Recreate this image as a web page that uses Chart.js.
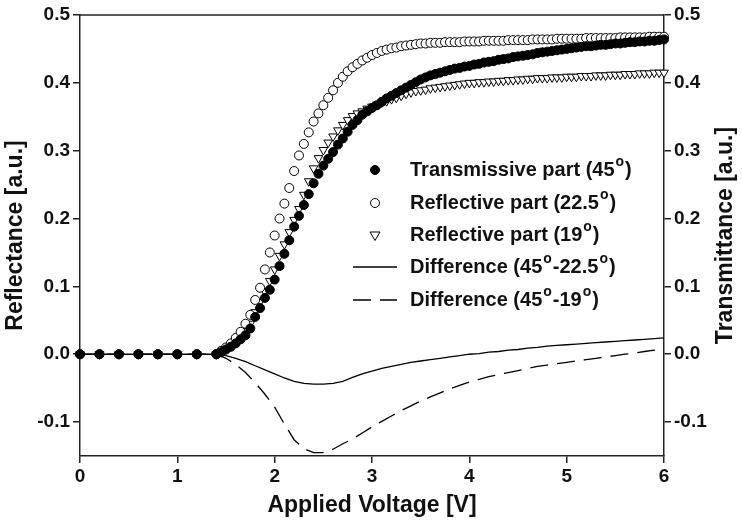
<!DOCTYPE html>
<html>
<head>
<meta charset="utf-8">
<script src="https://cdn.jsdelivr.net/npm/chart.js@4.4.0/dist/chart.umd.min.js"></script>
<style>
  html, body { margin: 0; padding: 0; background: #fff; }
  #wrap { width: 742px; height: 521px; position: relative; }
</style>
</head>
<body>
<div id="wrap"><canvas id="chart"></canvas></div>
<script>
// voltage steps: 0.2 V up to 1.4 V, then 0.05 V
const voltage = [
  0, 0.2, 0.4, 0.6, 0.8, 1.0, 1.2, 1.4,
  1.45, 1.5, 1.55, 1.6, 1.65, 1.7, 1.75, 1.8, 1.85, 1.9,
  1.95, 2.0, 2.05, 2.1, 2.15, 2.2, 2.25, 2.3, 2.35, 2.4,
  2.45, 2.5, 2.55, 2.6, 2.65, 2.7, 2.75, 2.8, 2.85, 2.9,
  2.95, 3.0, 3.05, 3.1, 3.15, 3.2, 3.25, 3.3, 3.35, 3.4,
  3.45, 3.5, 3.55, 3.6, 3.65, 3.7, 3.75, 3.8, 3.85, 3.9,
  3.95, 4.0, 4.05, 4.1, 4.15, 4.2, 4.25, 4.3, 4.35, 4.4,
  4.45, 4.5, 4.55, 4.6, 4.65, 4.7, 4.75, 4.8, 4.85, 4.9,
  4.95, 5.0, 5.05, 5.1, 5.15, 5.2, 5.25, 5.3, 5.35, 5.4,
  5.45, 5.5, 5.55, 5.6, 5.65, 5.7, 5.75, 5.8, 5.85, 5.9,
  5.95, 6.0
];

const transmissive45 = [
  0, 0, 0, 0, 0, 0, 0, 0,
  0.003, 0.007, 0.011, 0.016, 0.022, 0.028, 0.038, 0.055, 0.068, 0.083,
  0.095, 0.110, 0.130, 0.148, 0.168, 0.188, 0.204, 0.220, 0.236, 0.252,
  0.266, 0.278, 0.288, 0.298, 0.309, 0.318, 0.328, 0.338, 0.345, 0.353,
  0.358, 0.363, 0.367, 0.372, 0.377, 0.381, 0.385, 0.389, 0.393, 0.397,
  0.401, 0.405, 0.408, 0.411, 0.413, 0.415, 0.417, 0.419, 0.421, 0.422,
  0.424, 0.425, 0.427, 0.428, 0.430, 0.431, 0.432, 0.434, 0.435, 0.436,
  0.438, 0.439, 0.440, 0.441, 0.442, 0.444, 0.445, 0.446, 0.447, 0.448,
  0.449, 0.450, 0.451, 0.452, 0.453, 0.454, 0.454, 0.455, 0.456, 0.456,
  0.457, 0.458, 0.458, 0.459, 0.460, 0.460, 0.461, 0.461, 0.462, 0.462,
  0.463, 0.464
];

const reflective225 = [
  0, 0, 0, 0, 0, 0, 0, 0,
  0.005, 0.010, 0.016, 0.024, 0.033, 0.045, 0.058, 0.080, 0.098, 0.125,
  0.150, 0.175, 0.200, 0.222, 0.245, 0.270, 0.293, 0.310, 0.327, 0.343,
  0.355, 0.367, 0.378, 0.389, 0.400, 0.409, 0.417, 0.423, 0.428, 0.433,
  0.437, 0.441, 0.444, 0.447, 0.449, 0.451, 0.452, 0.454, 0.455, 0.456,
  0.457, 0.458, 0.458, 0.459, 0.459, 0.459, 0.460, 0.460, 0.460, 0.460,
  0.461, 0.461, 0.461, 0.461, 0.462, 0.462, 0.462, 0.462, 0.462, 0.463,
  0.463, 0.463, 0.463, 0.463, 0.464, 0.464, 0.464, 0.464, 0.464, 0.465,
  0.465, 0.465, 0.465, 0.465, 0.465, 0.466, 0.466, 0.466, 0.466, 0.466,
  0.466, 0.466, 0.467, 0.467, 0.467, 0.467, 0.467, 0.467, 0.468, 0.468,
  0.468, 0.468
];

const reflective19 = [
  0, 0, 0, 0, 0, 0, 0, 0,
  0.003, 0.007, 0.012, 0.018, 0.025, 0.034, 0.045, 0.062, 0.077, 0.092,
  0.108, 0.125, 0.145, 0.162, 0.180, 0.198, 0.214, 0.235, 0.255, 0.274,
  0.289, 0.301, 0.312, 0.321, 0.330, 0.338, 0.345, 0.351, 0.355, 0.358,
  0.362, 0.365, 0.368, 0.371, 0.373, 0.376, 0.378, 0.381, 0.384, 0.386,
  0.388, 0.389, 0.390, 0.392, 0.393, 0.394, 0.395, 0.396, 0.397, 0.398,
  0.399, 0.400, 0.400, 0.401, 0.401, 0.402, 0.402, 0.403, 0.403, 0.404,
  0.404, 0.405, 0.405, 0.406, 0.406, 0.407, 0.407, 0.407, 0.408, 0.408,
  0.408, 0.409, 0.409, 0.409, 0.410, 0.410, 0.410, 0.411, 0.411, 0.411,
  0.412, 0.412, 0.412, 0.413, 0.413, 0.413, 0.414, 0.414, 0.414, 0.415,
  0.415, 0.415
];

// difference curves, 0.1 V steps
const diffVoltage = [
  0, 1.4, 1.5, 1.6, 1.7, 1.8, 1.9, 2.0, 2.1, 2.2, 2.3, 2.4, 2.5, 2.6, 2.7, 2.8, 2.9,
  3.0, 3.1, 3.2, 3.3, 3.4, 3.5, 3.6, 3.7, 3.8, 3.9, 4.0, 4.1, 4.2, 4.3, 4.4, 4.5,
  4.6, 4.7, 4.8, 4.9, 5.0, 5.1, 5.2, 5.3, 5.4, 5.5, 5.6, 5.7, 5.8, 5.9, 6.0
];

const diff45_225 = [
  0, 0, -0.002, -0.006, -0.011, -0.017, -0.023, -0.029, -0.035, -0.040, -0.043, -0.044,
  -0.044, -0.043, -0.040, -0.034, -0.029, -0.025, -0.021, -0.018, -0.015, -0.012, -0.010,
  -0.008, -0.006, -0.004, -0.002, 0.000, 0.001, 0.003, 0.004, 0.006, 0.007,
  0.009, 0.010, 0.012, 0.013, 0.014, 0.015, 0.016, 0.017, 0.018, 0.019, 0.020,
  0.021, 0.022, 0.023, 0.024
];

const diff45_19 = [
  0, 0, -0.006, -0.015, -0.027, -0.042, -0.059, -0.078, -0.103, -0.126, -0.139, -0.145,
  -0.145, -0.140, -0.132, -0.125, -0.116, -0.107, -0.099, -0.091, -0.083, -0.076, -0.069,
  -0.063, -0.057, -0.051, -0.046, -0.041, -0.037, -0.033, -0.030, -0.027, -0.024,
  -0.021, -0.018, -0.016, -0.014, -0.012, -0.010, -0.008, -0.006, -0.004, -0.002, 0.000,
  0.002, 0.004, 0.006, 0.008
];

const xTicks = [0, 1, 2, 3, 4, 5, 6];
const yTicks = [-0.1, 0.0, 0.1, 0.2, 0.3, 0.4, 0.5];

const seriesLabels = [
  'Transmissive part (45^o)',
  'Reflective part (22.5^o)',
  'Reflective part (19^o)',
  'Difference (45^o-22.5^o)',
  'Difference (45^o-19^o)'
];

const xTitle = 'Applied Voltage [V]';
const yTitleLeft = 'Reflectance [a.u.]';
const yTitleRight = 'Transmittance [a.u.]';

const FONT = '"Liberation Sans", Arial, sans-serif';
const INK = '#111';

const toPts = (xs, ys) => xs.map((x, i) => ({ x: x, y: ys[i] }));

// draws text with "^o" superscripts
function drawRich(ctx, str, x, y) {
    const parts = str.split('^');
    ctx.font = 'bold 20px ' + FONT;
    ctx.fillText(parts[0], x, y);
    x += ctx.measureText(parts[0]).width;
    for (let k = 1; k < parts.length; k++) {
        const sup = parts[k].charAt(0);
        const rest = parts[k].slice(1);
        ctx.font = 'bold 14px ' + FONT;
        ctx.fillText(sup, x + 1, y - 8);
        x += ctx.measureText(sup).width + 2;
        ctx.font = 'bold 20px ' + FONT;
        ctx.fillText(rest, x, y);
        x += ctx.measureText(rest).width;
    }
}

function drawMarker(ctx, ds, x, y) {
    ctx.save();
    ctx.lineWidth = ds.borderWidth || 1;
    ctx.strokeStyle = ds.borderColor;
    ctx.fillStyle = ds.backgroundColor;
    const r = ds.pointRadius;
    ctx.beginPath();
    if (ds.pointStyle === 'triangle') {
        // pointing down
        ctx.moveTo(x - r, y - r * 0.6);
        ctx.lineTo(x + r, y - r * 0.6);
        ctx.lineTo(x, y + r * 1.1);
        ctx.closePath();
    } else {
        ctx.arc(x, y, r, 0, Math.PI * 2);
    }
    ctx.fill();
    ctx.stroke();
    ctx.restore();
}

const decorPlugin = {
    id: 'decor',
    afterDraw(chart) {
        const ctx = chart.ctx;
        const a = chart.chartArea;
        const midY = (a.top + a.bottom) / 2;
        ctx.save();

        // top frame line
        ctx.strokeStyle = '#222';
        ctx.lineWidth = 1.5;
        ctx.beginPath();
        ctx.moveTo(a.left, a.top);
        ctx.lineTo(a.right, a.top);
        ctx.stroke();

        // axis titles
        ctx.fillStyle = INK;
        ctx.font = 'bold 23px ' + FONT;
        ctx.textAlign = 'center';
        ctx.textBaseline = 'middle';
        ctx.fillText(xTitle, (a.left + a.right) / 2, a.bottom + 50);

        ctx.save();
        ctx.translate(16, midY);
        ctx.rotate(-Math.PI / 2);
        ctx.fillText(yTitleLeft, 0, 0);
        ctx.restore();

        ctx.save();
        ctx.translate(726, midY);
        ctx.rotate(-Math.PI / 2);
        ctx.fillText(yTitleRight, 0, 0);
        ctx.restore();

        // legend
        const markX = 375;
        const textX = 410;
        const rowY = [170, 203, 235, 267, 300];
        ctx.textAlign = 'left';
        chart.data.datasets.forEach((ds, i) => {
            const y = rowY[i];
            if (ds.showLine) {
                ctx.save();
                ctx.strokeStyle = ds.borderColor;
                ctx.lineWidth = ds.borderWidth;
                ctx.setLineDash(ds.borderDash || []);
                ctx.beginPath();
                ctx.moveTo(markX - 22, y);
                ctx.lineTo(markX + 22, y);
                ctx.stroke();
                ctx.restore();
            } else {
                drawMarker(ctx, ds, markX, y);
            }
            ctx.fillStyle = INK;
            drawRich(ctx, seriesLabels[i], textX, y);
        });
        ctx.restore();
    }
};

const axisCommon = {
    type: 'linear',
    min: -0.15,
    max: 0.5,
    grid: { display: true, drawOnChartArea: false, drawTicks: true, tickLength: 7, color: '#222', lineWidth: 1.5 },
    border: { display: true, color: '#222', width: 1.5 },
    ticks: {
        color: INK,
        font: { family: FONT, size: 19, weight: 'bold' },
        padding: 3,
        callback: v => v.toFixed(1)
    },
    afterBuildTicks: scale => { scale.ticks = yTicks.map(v => ({ value: v })); }
};

new Chart(document.getElementById('chart'), {
    type: 'scatter',
    data: {
        datasets: [
            {
                label: seriesLabels[0],
                data: toPts(voltage, transmissive45),
                pointStyle: 'circle',
                pointRadius: 4.5,
                backgroundColor: '#000',
                borderColor: '#000',
                borderWidth: 1,
                showLine: false,
                clip: false,
                order: 1
            },
            {
                label: seriesLabels[1],
                data: toPts(voltage, reflective225),
                pointStyle: 'circle',
                pointRadius: 4.5,
                backgroundColor: '#fff',
                borderColor: '#000',
                borderWidth: 1,
                showLine: false,
                clip: false,
                order: 2
            },
            {
                label: seriesLabels[2],
                data: toPts(voltage, reflective19),
                pointStyle: 'triangle',
                rotation: 180,
                pointRadius: 5,
                backgroundColor: '#fff',
                borderColor: '#000',
                borderWidth: 1,
                showLine: false,
                clip: false,
                order: 3
            },
            {
                label: seriesLabels[3],
                data: toPts(diffVoltage, diff45_225),
                showLine: true,
                pointRadius: 0,
                borderColor: '#000',
                borderWidth: 1.3,
                backgroundColor: '#000',
                order: 4
            },
            {
                label: seriesLabels[4],
                data: toPts(diffVoltage, diff45_19),
                showLine: true,
                pointRadius: 0,
                borderColor: '#000',
                borderWidth: 1.3,
                borderDash: [18, 9],
                backgroundColor: '#000',
                order: 5
            }
        ]
    },
    options: {
        responsive: true,
        maintainAspectRatio: false,
        animation: false,
        devicePixelRatio: 1,
        layout: { padding: { top: 15, left: 0, right: 0, bottom: 0 } },
        plugins: {
            legend: { display: false },
            tooltip: { enabled: false }
        },
        scales: {
            x: {
                type: 'linear',
                min: 0,
                max: 6,
                grid: { display: true, drawOnChartArea: false, drawTicks: true, tickLength: 7, color: '#222', lineWidth: 1.5 },
                border: { display: true, color: '#222', width: 1.5 },
                ticks: {
                    color: INK,
                    font: { family: FONT, size: 19, weight: 'bold' },
                    padding: 2,
                    maxRotation: 0
                },
                afterBuildTicks: scale => { scale.ticks = xTicks.map(v => ({ value: v })); },
                afterFit: scale => { scale.height = 65; }
            },
            y: Object.assign({}, axisCommon, {
                position: 'left',
                afterFit: scale => { scale.width = 80; }
            }),
            y2: Object.assign({}, axisCommon, {
                position: 'right',
                afterFit: scale => { scale.width = 78; }
            })
        }
    },
    plugins: [decorPlugin]
});
</script>
</body>
</html>
